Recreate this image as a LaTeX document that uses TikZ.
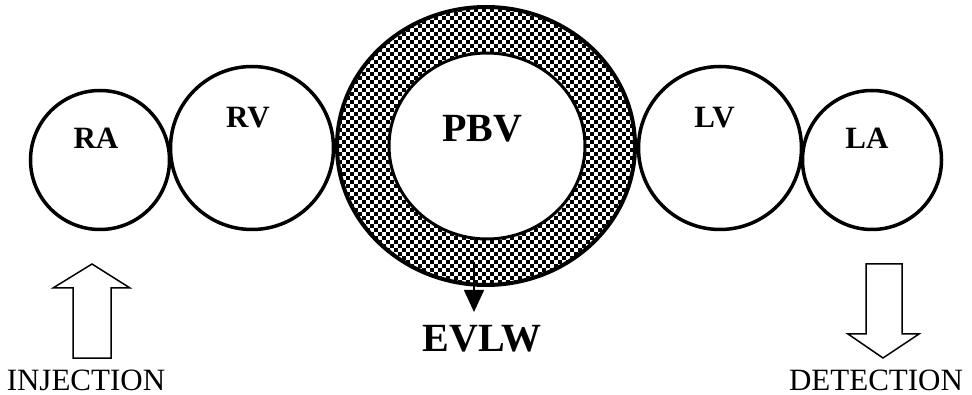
\documentclass[tikz,border=0pt]{standalone}
\usepackage{fontspec}
\setmainfont{Liberation Serif}
\usetikzlibrary{shapes.geometric,arrows.meta}
\tikzset{
  chamber/.style={circle, draw, line width=3.5pt, fill=white, inner sep=0pt},
  lbl/.style={inner sep=0pt, font=\fontsize{31}{31}\selectfont\bfseries},
  biglbl/.style={inner sep=0pt, font=\fontsize{40}{40}\selectfont\bfseries},
  caption/.style={inner sep=0pt, anchor=base, font=\fontsize{31}{31}\selectfont},
  hollow/.style={draw, line width=1.5pt, line join=miter, fill=white}
}
\begin{document}
\begin{tikzpicture}[x=1pt,y=-1pt]
\useasboundingbox (0,0) rectangle (972,395);
% ring
\node[ellipse, fill=white, minimum width=298pt, minimum height=278pt, inner sep=0pt] (ring) at (486,146) {};
\begin{scope}
  \clip (486,146) ellipse [x radius=150pt, y radius=140pt];
  \foreach \j in {0,...,71} {
    \pgfmathsetmacro\off{mod(\j,2)*4}
    \foreach \i in {0,8,...,304} {
      \fill (334+\i+\off, 4+\j*4) rectangle ++(4,4);
    }
  }
\end{scope}
\node[ellipse, draw, line width=4pt, minimum width=298pt, minimum height=278pt, inner sep=0pt] at (ring.center) {};
\node[ellipse, draw, line width=3pt, fill=white, minimum width=196pt, minimum height=186pt, inner sep=0pt] (pbvin) at (487,146) {};
% chambers
\node[chamber, minimum size=139pt] (RA) at (100,160) {};
\node[chamber, minimum size=163pt] (RV) at (252,148) {};
\node[chamber, minimum size=163pt] (LV) at (720,148) {};
\node[chamber, minimum size=139pt] (LA) at (872,160) {};
% labels
\node[lbl] (tRA) at (96,138) {RA};
\node[lbl] (tRV) at (248,118) {RV};
\node[biglbl] (tPBV) at (482,129) {PBV};
\node[lbl] (tLV) at (714.5,118) {LV};
\node[lbl] (tLA) at (867,138) {LA};
\node[biglbl] (EVLW) at (482,339) {EVLW};
% EVLW arrow
\coordinate (ev) at (474,262);
\coordinate (evtip) at (474,312);
\draw[line width=1.5pt, -{Triangle[width=20pt,length=22pt]}] (ev) -- (evtip);
% injection arrow
\draw[hollow] (73,358) -- (111,358) -- (111,288) -- (130,288) -- (92,264) -- (53,288) -- (73,288) -- cycle;
\node[caption] (inj) at (86,390) {INJECTION};
% detection arrow
\draw[hollow] (866,264) -- (902,264) -- (902,334) -- (919,334) -- (883,358) -- (848,334) -- (866,334) -- cycle;
\node[caption] (det) at (876,390) {DETECTION};
\end{tikzpicture}
\end{document}
